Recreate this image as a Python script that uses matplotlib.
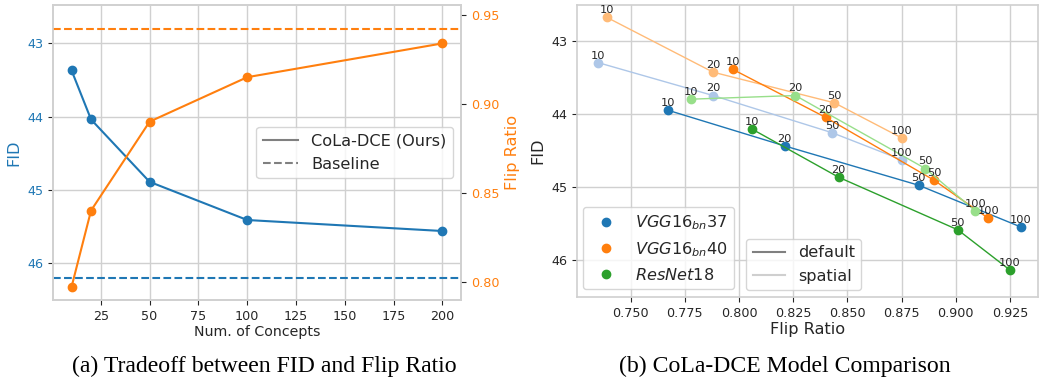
import matplotlib

matplotlib.use("Agg")

import matplotlib.pyplot as plt
from matplotlib.lines import Line2D

# (a) tradeoff vs number of concepts
concepts = [10, 20, 50, 100, 200]
fid_ours = [43.37, 44.04, 44.89, 45.41, 45.56]
flip_ours = [0.797, 0.840, 0.890, 0.915, 0.934]
fid_baseline = 46.2
flip_baseline = 0.942

# (b) model comparison, one point per number of concepts
model_concepts = [10, 20, 50, 100]
models = [r"$VGG16_{bn}37$", r"$VGG16_{bn}40$", r"$ResNet18$"]
default_colors = ["#1f77b4", "#ff7f0e", "#2ca02c"]
spatial_colors = ["#aec7e8", "#ffbb78", "#98df8a"]

flip_default = [
    [0.767, 0.821, 0.883, 0.930],
    [0.797, 0.840, 0.890, 0.915],
    [0.806, 0.846, 0.901, 0.925],
]
fid_default = [
    [43.94, 44.43, 44.97, 45.54],
    [43.38, 44.04, 44.90, 45.42],
    [44.20, 44.86, 45.58, 46.13],
]
flip_spatial = [
    [0.735, 0.788, 0.843, 0.875],
    [0.739, 0.788, 0.844, 0.875],
    [0.778, 0.826, 0.886, 0.909],
]
fid_spatial = [
    [43.29, 43.74, 44.25, 44.62],
    [42.67, 43.42, 43.84, 44.32],
    [43.79, 43.74, 44.74, 45.32],
]

TEXT = "#262626"
GRID = "#d0d0d0"
plt.rcParams.update({
    "font.family": "DejaVu Sans",
    "axes.edgecolor": GRID,
    "axes.linewidth": 1.2,
    "grid.color": GRID,
    "grid.linewidth": 1.0,
    "xtick.color": TEXT,
    "ytick.color": TEXT,
    "xtick.labelsize": 9.2,
    "ytick.labelsize": 9.2,
    "axes.labelsize": 11.6,
    "axes.labelcolor": TEXT,
    "text.color": TEXT,
    "legend.fontsize": 11.6,
})

fig = plt.figure(figsize=(10.47, 3.81), dpi=100)
ax1 = fig.add_axes([0.0506, 0.2126, 0.3897, 0.7743])
ax2 = ax1.twinx()
ax3 = fig.add_axes([0.5511, 0.2205, 0.4403, 0.7664])

# ---- (a)
ax1.plot(concepts, fid_ours, color="C0", marker="o", markersize=6, linewidth=1.5)
ax1.axhline(fid_baseline, color="C0", linestyle="--", linewidth=1.5)
ax1.set_ylim(46.5, 42.48)
ax1.set_xlim(0.5, 209.5)
ax1.set_xticks([25, 50, 75, 100, 125, 150, 175, 200])
ax1.set_yticks([43, 44, 45, 46])
ax1.set_xlabel("Num. of Concepts", fontsize=10.2, labelpad=2)
ax1.set_ylabel("FID", color="C0", labelpad=4)
ax1.tick_params(axis="y", labelcolor="C0")
ax1.grid(True)

ax2.plot(concepts, flip_ours, color="C1", marker="o", markersize=6, linewidth=1.5)
ax2.axhline(flip_baseline, color="C1", linestyle="--", linewidth=1.5)
ax2.set_ylim(0.7897, 0.9556)
ax2.set_yticks([0.80, 0.85, 0.90, 0.95])
ax2.set_ylabel("Flip Ratio", color="C1", labelpad=4)
ax2.tick_params(axis="y", labelcolor="C1")
ax2.grid(False)
for sp in ax2.spines.values():
    sp.set_color(GRID)

handles = [
    Line2D([], [], color="gray", linestyle="-", linewidth=1.5),
    Line2D([], [], color="gray", linestyle="--", linewidth=1.5),
]
ax2.legend(handles, ["CoLa-DCE (Ours)", "Baseline"], loc="center right",
           handlelength=2.2)

# ---- (b)
for i in range(len(models)):
    ax3.plot(flip_spatial[i], fid_spatial[i], color=spatial_colors[i], linewidth=1.0,
             marker="o", markersize=6)
    ax3.plot(flip_default[i], fid_default[i], color=default_colors[i], linewidth=1.0,
             marker="o", markersize=6)
    for xs, ys in [(flip_spatial[i], fid_spatial[i]), (flip_default[i], fid_default[i])]:
        for n, x, y in zip(model_concepts, xs, ys):
            ax3.annotate(str(n), (x, y), xytext=(0, 1.5), textcoords="offset points",
                         ha="center", va="bottom", fontsize=8.2, color=TEXT)

ax3.set_xlim(0.7252, 0.938)
ax3.set_ylim(46.5, 42.5)
ax3.set_xticks([0.750, 0.775, 0.800, 0.825, 0.850, 0.875, 0.900, 0.925])
ax3.set_xticklabels(["0.750", "0.775", "0.800", "0.825", "0.850", "0.875", "0.900", "0.925"])
ax3.set_yticks([43, 44, 45, 46])
ax3.set_xlabel("Flip Ratio", labelpad=2)
ax3.set_ylabel("FID", labelpad=4)
ax3.grid(True)

model_handles = [Line2D([], [], color=c, marker="o", linestyle="", markersize=6)
                 for c in default_colors]
leg1 = ax3.legend(model_handles, models, loc="lower left",
                  bbox_to_anchor=(0.013, 0.027), borderaxespad=0)
ax3.add_artist(leg1)
style_handles = [
    Line2D([], [], color="gray", linewidth=1.5),
    Line2D([], [], color="#cfcfcf", linewidth=1.5),
]
ax3.legend(style_handles, ["default", "spatial"], loc="lower left",
           bbox_to_anchor=(0.367, 0.024), borderaxespad=0)

fig.text(0.252, 0.038, "(a) Tradeoff between FID and Flip Ratio", ha="center", va="center",
         family="Liberation Serif", fontsize=17.1, color="black")
fig.text(0.750, 0.038, "(b) CoLa-DCE Model Comparison", ha="center", va="center",
         family="Liberation Serif", fontsize=17.1, color="black")

fig.savefig("out.png", dpi=100)
